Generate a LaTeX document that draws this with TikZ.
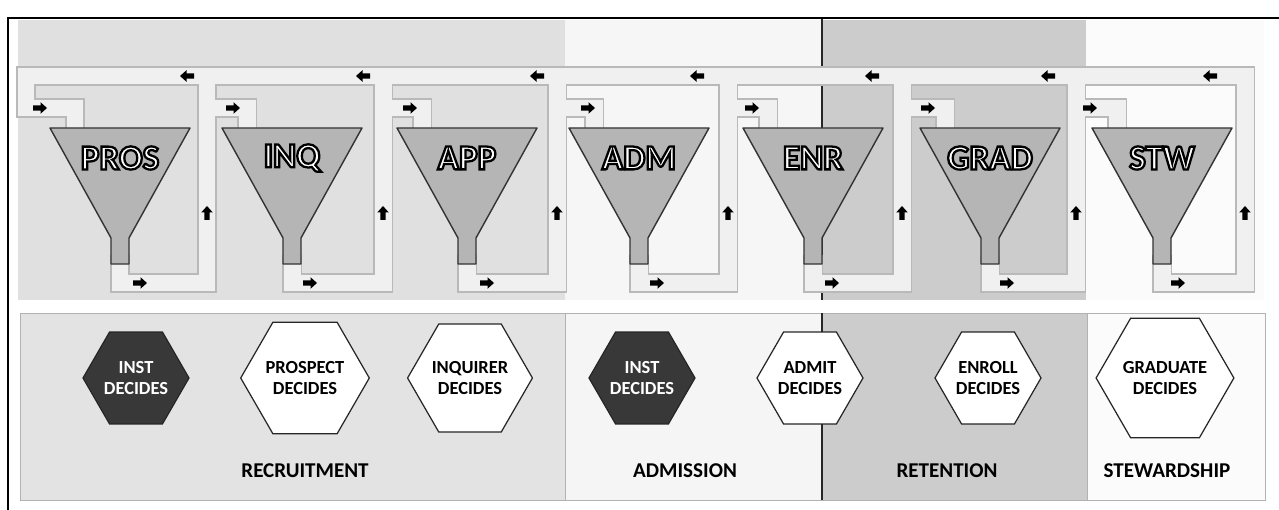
\documentclass[tikz,border=0pt]{standalone}
\usepackage{fontspec}
\setmainfont{Carlito}
\usetikzlibrary{shapes.geometric}
% white letters with a black rim (fill and stroke render mode)
\newcommand\rimtext[1]{\special{pdf:literal direct 2 Tr 1.3 w 0 G}#1\special{pdf:literal direct 0 Tr}}
\tikzset{
  funnel/.style={fill=gray!58,draw=black!80,line width=0.8pt,line join=round},
  stage/.style={text=white,font=\bfseries\fontsize{20}{21}\selectfont,inner sep=0pt},
  bandedge/.style={draw=gray!55,line width=0.40cm},
  bandfill/.style={draw=gray!12,line width=0.34cm},
  flowmark/.pic={
    \fill[black] (-7,-2.6) -- (0.5,-2.6) -- (0.5,-5.8) -- (7,0) -- (0.5,5.8)
      -- (0.5,2.6) -- (-7,2.6) -- cycle;
  },
  decide/.style={regular polygon,regular polygon sides=6,minimum size=2.12cm,inner sep=0pt,
    draw=black!85,line width=0.7pt,fill=white,align=center,
    font=\bfseries\fontsize{10.5}{11.5}\selectfont},
  instdecide/.style={decide,fill=black!78,text=white},
  phase/.style={font=\bfseries\fontsize{12}{14}\selectfont},
  panel/.style={draw=gray!60,line width=0.5pt}
}

\begin{document}
\begin{tikzpicture}[x=0.02cm,y=-0.02cm]
  \useasboundingbox (0,0) rectangle (1279,510);
  \fill[white] (0,0) rectangle (1279,510);

  % column shading, funnel band on top, decision band below
  \fill[gray!24] (18,20) rectangle (565,300);
  \fill[gray!7] (565,20) rectangle (822,300);
  \fill[gray!40] (822,20) rectangle (1086,300);
  \fill[gray!3] (1086,20) rectangle (1264,300);
  \draw[panel,fill=gray!22] (20,313) rectangle (565,500);
  \draw[panel,fill=gray!8] (565,313) rectangle (822,500);
  \draw[panel,fill=gray!40] (822,313) rectangle (1087,500);
  \draw[panel,fill=gray!3] (1087,313) rectangle (1265,500);
  \draw[black!85,line width=0.8pt] (822,18) -- (822,300) (822,313) -- (822,500);
  \draw[black,line width=1.6pt] (8,510) -- (8,18) -- (1279,18);

  % flow bands: out of each spout, up the side, on to the next funnel
  \foreach \layer in {bandedge,bandfill} {
    \foreach \cx/\up/\nx in {120/207/292,292/383/467,467/557/639,
        639/728/813,813/902/990,990/1076/1162}
      \draw[\layer] (\cx,255) |- (\up,283) -- (\up,76)
                    (\up,108) -| (\nx-45,135);
    \draw[\layer] (1162,255) |- (1245,283) -- (1245,76) -- (26,76)
                  -- (26,108) -| (75,135);
  }

  % funnels
  \foreach \name/\cx in {PROS/120,INQ/292,APP/467,ADM/639,ENR/813,GRAD/990,STW/1162} {
    \draw[funnel] (\cx-70,128) -- (\cx+70,128) -- (\cx+9,238) -- (\cx+9,264)
                  -- (\cx-9,264) -- (\cx-9,238) -- cycle;
    \node[stage] (\name) at (\cx,158) {\rimtext{\name}};
  }

  % direction marks on the bands
  \foreach \x in {187,363,537,697,872,1048,1210}
    \pic[rotate=180] (back-\x) at (\x,76) {flowmark};
  \foreach \x in {40,233,410,588,752,928,1090}
    \pic (in-\x) at (\x,108) {flowmark};
  \foreach \x in {207,383,557,728,902,1076,1245}
    \pic[rotate=90] (up-\x) at (\x,213) {flowmark};
  \foreach \x in {140,310,487,657,832,1007,1178}
    \pic (out-\x) at (\x,283) {flowmark};

  % who decides at each step
  \node[instdecide] (inst1) at (136,378) {INST\\DECIDES};
  \node[decide] (prospect) at (305,378) {PROSPECT\\DECIDES};
  \node[decide] (inquirer) at (470,378) {INQUIRER\\DECIDES};
  \node[instdecide] (inst2) at (642,378) {INST\\DECIDES};
  \node[decide] (admit) at (810,378) {ADMIT\\DECIDES};
  \node[decide] (enroll) at (988,378) {ENROLL\\DECIDES};
  \node[decide] (graduate) at (1165,378) {GRADUATE\\DECIDES};

  \node[phase] (recruit) at (305,471) {RECRUITMENT};
  \node[phase] (admission) at (685,471) {ADMISSION};
  \node[phase] (retention) at (947,471) {RETENTION};
  \node[phase] (steward) at (1167,471) {STEWARDSHIP};
\end{tikzpicture}
\end{document}
